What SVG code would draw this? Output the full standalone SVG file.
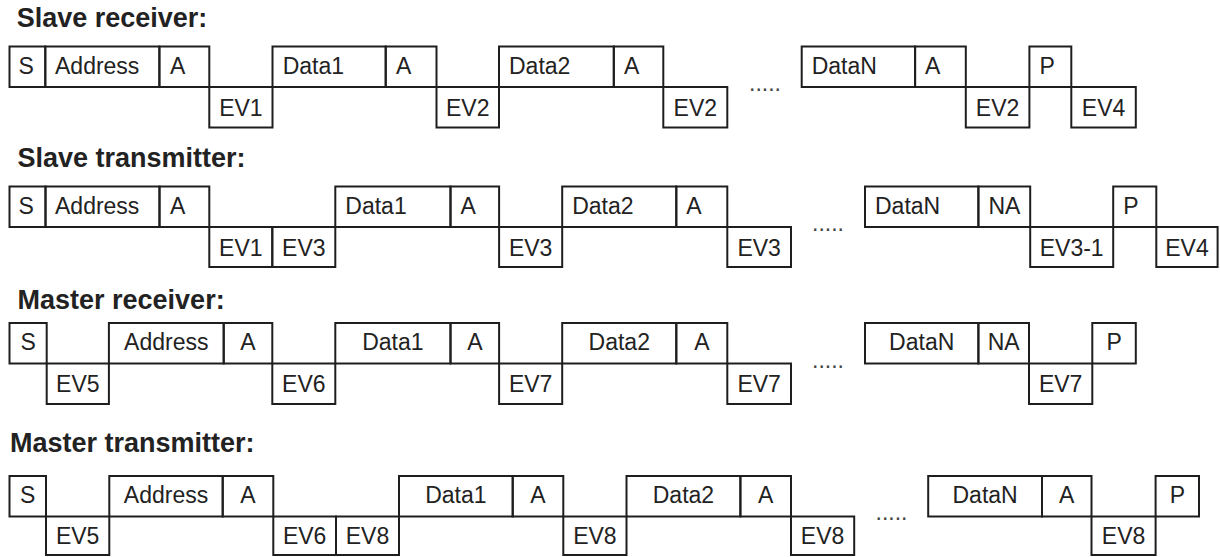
<svg xmlns="http://www.w3.org/2000/svg" width="1220" height="557" viewBox="0 0 1220 557">
<style>
.bg{fill:#ffffff}
.box{fill:none;stroke:#1e1e1e;stroke-width:2}
.lbl{font-family:"Liberation Sans",Arial,sans-serif;font-size:23px;fill:#222222}
.c{text-anchor:middle}
.title{font-family:"Liberation Sans",Arial,sans-serif;font-size:27px;font-weight:bold;fill:#222222}
.dots{font-family:"Liberation Sans",Arial,sans-serif;font-size:23px;fill:#444444}
</style>
<rect class="bg" x="0" y="0" width="1220" height="557"/>

<!-- Row 1: Slave receiver -->
<text class="title" x="16.7" y="27">Slave receiver:</text>
<g id="r1-S"><rect class="box" x="9.5" y="46.5" width="35.8" height="40.5"/><text class="lbl" x="18.5" y="73.5">S</text></g>
<g id="r1-Address"><rect class="box" x="45.3" y="46.5" width="114.1" height="40.5"/><text class="lbl" x="55" y="73.5">Address</text></g>
<g id="r1-A1"><rect class="box" x="159.4" y="46.5" width="49.9" height="40.5"/><text class="lbl" x="170" y="73.5">A</text></g>
<g id="r1-EV1"><rect class="box" x="209.3" y="87" width="63.2" height="40.5"/><text class="lbl c" x="240.9" y="115.5">EV1</text></g>
<g id="r1-Data1"><rect class="box" x="272.5" y="46.5" width="113.2" height="40.5"/><text class="lbl" x="282.7" y="73.5">Data1</text></g>
<g id="r1-A2"><rect class="box" x="385.7" y="46.5" width="50.8" height="40.5"/><text class="lbl" x="396" y="73.5">A</text></g>
<g id="r1-EV2a"><rect class="box" x="436.5" y="87" width="62.5" height="40.5"/><text class="lbl c" x="467.75" y="115.5">EV2</text></g>
<g id="r1-Data2"><rect class="box" x="499" y="46.5" width="114.8" height="40.5"/><text class="lbl" x="509" y="73.5">Data2</text></g>
<g id="r1-A3"><rect class="box" x="613.8" y="46.5" width="49.5" height="40.5"/><text class="lbl" x="624" y="73.5">A</text></g>
<g id="r1-EV2b"><rect class="box" x="663.3" y="87" width="64" height="40.5"/><text class="lbl c" x="695.3" y="115.5">EV2</text></g>
<text class="dots" x="749" y="90.5">.....</text>
<g id="r1-DataN"><rect class="box" x="801.7" y="46.5" width="113.4" height="40.5"/><text class="lbl" x="811.7" y="73.5">DataN</text></g>
<g id="r1-A4"><rect class="box" x="915.1" y="46.5" width="50.7" height="40.5"/><text class="lbl" x="925" y="73.5">A</text></g>
<g id="r1-EV2c"><rect class="box" x="965.8" y="87" width="63.6" height="40.5"/><text class="lbl c" x="997.6" y="115.5">EV2</text></g>
<g id="r1-P"><rect class="box" x="1029.4" y="46.5" width="41.9" height="40.5"/><text class="lbl" x="1039.4" y="73.5">P</text></g>
<g id="r1-EV4"><rect class="box" x="1071.3" y="87" width="64.5" height="40.5"/><text class="lbl c" x="1103.55" y="115.5">EV4</text></g>

<!-- Row 2: Slave transmitter -->
<text class="title" x="17.5" y="166.5">Slave transmitter:</text>
<g id="r2-S"><rect class="box" x="9.5" y="186.5" width="36" height="40.5"/><text class="lbl" x="18.5" y="213.5">S</text></g>
<g id="r2-Address"><rect class="box" x="45.5" y="186.5" width="114" height="40.5"/><text class="lbl" x="55" y="213.5">Address</text></g>
<g id="r2-A1"><rect class="box" x="159.5" y="186.5" width="49.8" height="40.5"/><text class="lbl" x="170" y="213.5">A</text></g>
<g id="r2-EV1"><rect class="box" x="209.3" y="227" width="63" height="40"/><text class="lbl c" x="240.8" y="255.5">EV1</text></g>
<g id="r2-EV3a"><rect class="box" x="272.3" y="227" width="63" height="40"/><text class="lbl c" x="303.8" y="255.5">EV3</text></g>
<g id="r2-Data1"><rect class="box" x="335.3" y="186.5" width="115.2" height="40.5"/><text class="lbl" x="345.3" y="213.5">Data1</text></g>
<g id="r2-A2"><rect class="box" x="450.5" y="186.5" width="48.6" height="40.5"/><text class="lbl" x="460.5" y="213.5">A</text></g>
<g id="r2-EV3b"><rect class="box" x="499.1" y="227" width="63.1" height="40"/><text class="lbl c" x="530.65" y="255.5">EV3</text></g>
<g id="r2-Data2"><rect class="box" x="562.2" y="186.5" width="114.1" height="40.5"/><text class="lbl" x="572.2" y="213.5">Data2</text></g>
<g id="r2-A3"><rect class="box" x="676.3" y="186.5" width="51" height="40.5"/><text class="lbl" x="686.3" y="213.5">A</text></g>
<g id="r2-EV3c"><rect class="box" x="727.3" y="227" width="63.7" height="40"/><text class="lbl c" x="759.15" y="255.5">EV3</text></g>
<text class="dots" x="812" y="230.5">.....</text>
<g id="r2-DataN"><rect class="box" x="865" y="186.5" width="113.4" height="40.5"/><text class="lbl" x="875" y="213.5">DataN</text></g>
<g id="r2-NA"><rect class="box" x="978.4" y="186.5" width="51.8" height="40.5"/><text class="lbl" x="988.4" y="213.5">NA</text></g>
<g id="r2-EV3-1"><rect class="box" x="1030.2" y="227" width="83" height="40"/><text class="lbl c" x="1071.7" y="255.5">EV3-1</text></g>
<g id="r2-P"><rect class="box" x="1113.2" y="186.5" width="43.1" height="40.5"/><text class="lbl" x="1123.2" y="213.5">P</text></g>
<g id="r2-EV4"><rect class="box" x="1156.3" y="227" width="61.3" height="40"/><text class="lbl c" x="1186.95" y="255.5">EV4</text></g>

<!-- Row 3: Master receiver -->
<text class="title" x="17.5" y="309">Master receiver:</text>
<g id="r3-S"><rect class="box" x="9.5" y="323" width="37.2" height="40.5"/><text class="lbl c" x="28.1" y="350">S</text></g>
<g id="r3-EV5"><rect class="box" x="46.7" y="363.5" width="62.2" height="40.5"/><text class="lbl c" x="77.8" y="392">EV5</text></g>
<g id="r3-Address"><rect class="box" x="108.9" y="323" width="114.8" height="40.5"/><text class="lbl c" x="166.3" y="350">Address</text></g>
<g id="r3-A1"><rect class="box" x="223.7" y="323" width="48.6" height="40.5"/><text class="lbl c" x="248" y="350">A</text></g>
<g id="r3-EV6"><rect class="box" x="272.3" y="363.5" width="63" height="40.5"/><text class="lbl c" x="303.8" y="392">EV6</text></g>
<g id="r3-Data1"><rect class="box" x="335.3" y="323" width="115.2" height="40.5"/><text class="lbl c" x="392.9" y="350">Data1</text></g>
<g id="r3-A2"><rect class="box" x="450.5" y="323" width="48.6" height="40.5"/><text class="lbl c" x="474.8" y="350">A</text></g>
<g id="r3-EV7a"><rect class="box" x="499.1" y="363.5" width="63.1" height="40.5"/><text class="lbl c" x="530.65" y="392">EV7</text></g>
<g id="r3-Data2"><rect class="box" x="562.2" y="323" width="114.1" height="40.5"/><text class="lbl c" x="619.25" y="350">Data2</text></g>
<g id="r3-A3"><rect class="box" x="676.3" y="323" width="51" height="40.5"/><text class="lbl c" x="701.8" y="350">A</text></g>
<g id="r3-EV7b"><rect class="box" x="727.3" y="363.5" width="63.7" height="40.5"/><text class="lbl c" x="759.15" y="392">EV7</text></g>
<text class="dots" x="812" y="368">.....</text>
<g id="r3-DataN"><rect class="box" x="865" y="323" width="113.4" height="40.5"/><text class="lbl c" x="921.7" y="350">DataN</text></g>
<g id="r3-NA"><rect class="box" x="978.4" y="323" width="50.6" height="40.5"/><text class="lbl c" x="1003.7" y="350">NA</text></g>
<g id="r3-EV7c"><rect class="box" x="1029" y="363.5" width="63.3" height="40.5"/><text class="lbl c" x="1060.65" y="392">EV7</text></g>
<g id="r3-P"><rect class="box" x="1092.3" y="323" width="43.5" height="40.5"/><text class="lbl c" x="1114.05" y="350">P</text></g>

<!-- Row 4: Master transmitter -->
<text class="title" x="10" y="452">Master transmitter:</text>
<g id="r4-S"><rect class="box" x="9.5" y="476" width="36.5" height="40.5"/><text class="lbl c" x="27.75" y="503">S</text></g>
<g id="r4-EV5"><rect class="box" x="46" y="516.5" width="63.3" height="38.5"/><text class="lbl c" x="77.65" y="544">EV5</text></g>
<g id="r4-Address"><rect class="box" x="109.3" y="476" width="113.4" height="40.5"/><text class="lbl c" x="166" y="503">Address</text></g>
<g id="r4-A1"><rect class="box" x="222.7" y="476" width="50.6" height="40.5"/><text class="lbl c" x="248" y="503">A</text></g>
<g id="r4-EV6"><rect class="box" x="273.3" y="516.5" width="62.7" height="38.5"/><text class="lbl c" x="304.65" y="544">EV6</text></g>
<g id="r4-EV8a"><rect class="box" x="336" y="516.5" width="63" height="38.5"/><text class="lbl c" x="367.5" y="544">EV8</text></g>
<g id="r4-Data1"><rect class="box" x="399" y="476" width="113.7" height="40.5"/><text class="lbl c" x="455.85" y="503">Data1</text></g>
<g id="r4-A2"><rect class="box" x="512.7" y="476" width="50.6" height="40.5"/><text class="lbl c" x="538" y="503">A</text></g>
<g id="r4-EV8b"><rect class="box" x="563.3" y="516.5" width="63.2" height="38.5"/><text class="lbl c" x="594.9" y="544">EV8</text></g>
<g id="r4-Data2"><rect class="box" x="626.5" y="476" width="113.9" height="40.5"/><text class="lbl c" x="683.45" y="503">Data2</text></g>
<g id="r4-A3"><rect class="box" x="740.4" y="476" width="50.6" height="40.5"/><text class="lbl c" x="765.7" y="503">A</text></g>
<g id="r4-EV8c"><rect class="box" x="791" y="516.5" width="63.2" height="38.5"/><text class="lbl c" x="822.6" y="544">EV8</text></g>
<text class="dots" x="875.5" y="519.5">.....</text>
<g id="r4-DataN"><rect class="box" x="928.2" y="476" width="113.8" height="40.5"/><text class="lbl c" x="985.1" y="503">DataN</text></g>
<g id="r4-A4"><rect class="box" x="1042" y="476" width="49.5" height="40.5"/><text class="lbl c" x="1066.75" y="503">A</text></g>
<g id="r4-EV8d"><rect class="box" x="1091.5" y="516.5" width="64.1" height="38.5"/><text class="lbl c" x="1123.55" y="544">EV8</text></g>
<g id="r4-P"><rect class="box" x="1155.6" y="476" width="43.4" height="40.5"/><text class="lbl c" x="1177.3" y="503">P</text></g>
<g id="connectors"></g>
</svg>
